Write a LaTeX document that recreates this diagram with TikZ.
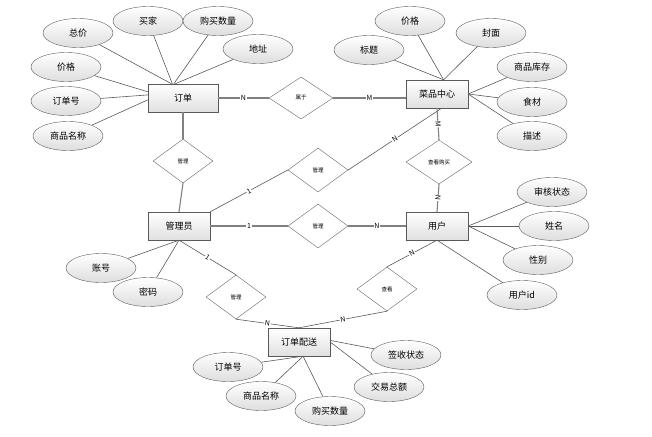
\documentclass[tikz,border=0pt]{standalone}
\usepackage{fontspec}
\setmainfont{Noto Sans CJK SC}
\usetikzlibrary{shapes.geometric}
\begin{document}
\begin{tikzpicture}[x=1pt, y=-1pt,
  every node/.style={font=\fontsize{9}{10}\selectfont},
  ent/.style={draw=black!65, rectangle, top color=white, bottom color=black!12,
    minimum width=62pt, minimum height=28pt, inner sep=0pt},
  attr/.style={draw=black!65, ellipse, top color=white, bottom color=black!13,
    minimum width=70pt, minimum height=29pt, inner sep=0pt},
  rel/.style={draw=black!60, diamond, fill=white, minimum width=60pt,
    minimum height=44pt, inner sep=0pt, font=\fontsize{5.5}{6}\selectfont},
  card/.style={fill=white, inner sep=0.6pt, font=\fontsize{7}{8}\selectfont},
  aline/.style={draw=black!65, line width=0.6pt},
  rline/.style={draw=black!50, line width=1.1pt}]
  \useasboundingbox (0,0) rectangle (652,436);
  % Entiteter
  \node[ent, minimum width=70pt] (dingdan) at (183,98) {订单};
  \node[ent] (caipin) at (437,94) {菜品中心};
  \node[ent] (guanliyuan) at (179,226) {管理员};
  \node[ent] (yonghu) at (437,226) {用户};
  \node[ent] (peisong) at (299,342) {订单配送};
  % Relationer
  \node[rel, minimum width=64pt, minimum height=42pt] (shuyu) at (301,98) {属于};
  \node[rel] (guanliA) at (183,161) {管理};
  \node[rel] (guanliB) at (318,170) {管理};
  \node[rel, minimum width=66pt] (chakangm) at (439,162) {查看购买};
  \node[rel] (guanliC) at (318,226) {管理};
  \node[rel] (guanliD) at (236,297) {管理};
  \node[rel] (chakan) at (387,289) {查看};
  % Attributter: orde
  \node[attr] (dd-zongjia) at (78,33) {总价};
  \node[attr] (dd-maijia) at (148,21) {买家};
  \node[attr] (dd-shuliang) at (218,21) {购买数量};
  \node[attr] (dd-dizhi) at (258,49) {地址};
  \node[attr] (dd-jiage) at (66,67) {价格};
  \node[attr] (dd-hao) at (66,101) {订单号};
  \node[attr] (dd-mingcheng) at (68,136) {商品名称};
  % Attributter: menu
  \node[attr] (cp-jiage) at (410,21) {价格};
  \node[attr] (cp-biaoti) at (369,50) {标题};
  \node[attr] (cp-fengmian) at (491,33) {封面};
  \node[attr] (cp-kucun) at (532,67) {商品库存};
  \node[attr] (cp-shicai) at (532,102) {食材};
  \node[attr] (cp-miaoshu) at (532,136) {描述};
  % Attributter: bruger og admin
  \node[attr] (yh-zhuangtai) at (552,192) {审核状态};
  \node[attr] (yh-xingming) at (554,226) {姓名};
  \node[attr] (yh-xingbie) at (538,260) {性别};
  \node[attr] (yh-id) at (522,295) {用户id};
  \node[attr] (gl-zhanghao) at (101,268) {账号};
  \node[attr] (gl-mima) at (148,292) {密码};
  % Attributter: levering
  \node[attr] (ps-qianshou) at (406,355) {签收状态};
  \node[attr] (ps-zonge) at (389,387) {交易总额};
  \node[attr] (ps-hao) at (228,367) {订单号};
  \node[attr] (ps-mingcheng) at (261,396) {商品名称};
  \node[attr] (ps-shuliang) at (330,411) {购买数量};
  % Attributlinjer
  \draw[aline] (dd-zongjia) -- (dingdan.129);
  \draw[aline] (dd-maijia) -- (dingdan.127);
  \draw[aline] (dd-shuliang) -- (dingdan.123);
  \draw[aline] (dd-dizhi) -- (dingdan.119);
  \draw[aline] (dd-jiage) -- (dingdan.170);
  \draw[aline] (dd-hao) -- (dingdan.175);
  \draw[aline] (dd-mingcheng) -- (dingdan.183);
  \draw[aline] (cp-biaoti) -- (caipin.65);
  \draw[aline] (cp-jiage) -- (caipin.65);
  \draw[aline] (cp-fengmian) -- (caipin.65);
  \draw[aline] (cp-kucun) -- (caipin.east);
  \draw[aline] (cp-shicai) -- (caipin.east);
  \draw[aline] (cp-miaoshu) -- (caipin.east);
  \draw[aline] (yh-zhuangtai) -- (yonghu.east);
  \draw[aline] (yh-xingming) -- (yonghu.east);
  \draw[aline] (yh-xingbie) -- (yonghu.east);
  \draw[aline] (yh-id) -- (yonghu.south);
  \draw[aline] (gl-zhanghao) -- (guanliyuan.south);
  \draw[aline] (gl-mima) -- (guanliyuan.south);
  \draw[aline] (ps-qianshou) -- (peisong.3);
  \draw[aline] (ps-zonge) -- (peisong.east);
  \draw[aline] (ps-hao) -- (peisong.-74);
  \draw[aline] (ps-mingcheng) -- (peisong.-74);
  \draw[aline] (ps-shuliang) -- (peisong.-74);
  % Relationslinjer
  \draw[rline] (dingdan.east) -- node[card] {N} (shuyu.west);
  \draw[rline] (shuyu.east) -- node[card] {M} (shuyu.east -| caipin.west);
  \draw[rline] (dingdan.south) -- (guanliA.north);
  \draw[rline] (guanliA.south) -- (guanliyuan.north);
  \draw[aline] (guanliyuan.north east) -- node[card, sloped] {1} (guanliB.west);
  \draw[aline] (guanliB.east) -- node[card, sloped] {N} (caipin.-72);
  \draw[rline] (caipin.south) -- node[card, sloped] {M} (chakangm.north);
  \draw[rline] (chakangm.south) -- node[card, sloped] {N} (yonghu.north);
  \draw[rline] (guanliyuan.east) -- node[card] {1} (guanliC.west);
  \draw[rline] (guanliC.east) -- node[card] {N} (yonghu.west);
  \draw[aline] (guanliyuan.south) -- node[card, sloped] {1} (guanliD.north);
  \draw[aline] (guanliD.south) -- node[card, sloped] {N} (peisong.north);
  \draw[aline] (yonghu.south) -- node[card, sloped] {N} (chakan.north);
  \draw[aline] (chakan.south) -- node[card, sloped] {N} (peisong.north);
\end{tikzpicture}
\end{document}
